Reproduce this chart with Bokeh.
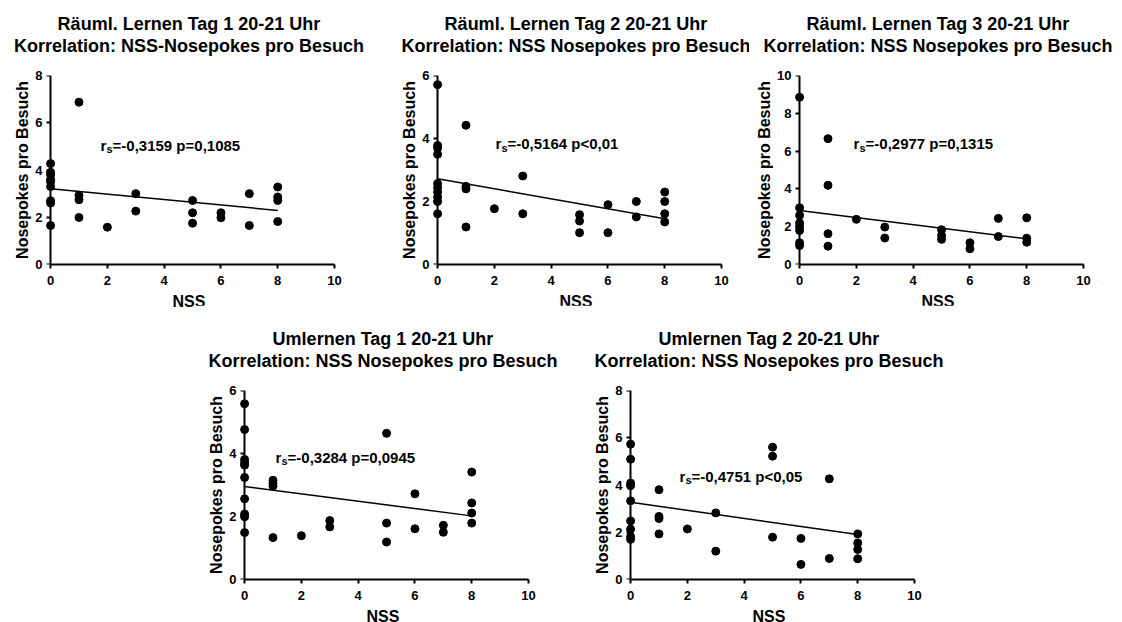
from bokeh.plotting import figure
from bokeh.models import Range1d, FixedTicker, Label, Title, Spacer, LinearAxis
from bokeh.layouts import row, column
from bokeh.embed import file_html
from bokeh.resources import INLINE

FONT = "Liberation Sans"

# --- data -------------------------------------------------------------
title_top = [
    "Räuml. Lernen Tag 1 20-21 Uhr",
    "Räuml. Lernen Tag 2 20-21 Uhr",
    "Räuml. Lernen Tag 3 20-21 Uhr",
    "Umlernen Tag 1 20-21 Uhr",
    "Umlernen Tag 2 20-21 Uhr",
]
title_bottom = [
    "Korrelation: NSS-Nosepokes pro Besuch",
    "Korrelation: NSS Nosepokes pro Besuch",
    "Korrelation: NSS Nosepokes pro Besuch",
    "Korrelation: NSS Nosepokes pro Besuch",
    "Korrelation: NSS Nosepokes pro Besuch",
]
stats_text = [
    "=-0,3159 p=0,1085",
    "=-0,5164 p<0,01",
    "=-0,2977 p=0,1315",
    "=-0,3284 p=0,0945",
    "=-0,4751 p<0,05",
]
y_max = [8, 6, 10, 6, 8]
x_ticks = [0, 2, 4, 6, 8, 10]

nss_raeuml_1 = [0, 0, 0, 0, 0, 0, 0, 0, 0, 1, 1, 1, 1, 2, 3, 3, 5, 5, 5, 6, 6, 7, 7, 8, 8, 8, 8]
np_raeuml_1 = [4.27, 3.90, 3.80, 3.60, 3.50, 3.30, 2.70, 2.60, 1.65,
               6.87, 2.93, 2.74, 1.99, 1.58, 3.00, 2.26, 2.71, 2.19, 1.75,
               2.19, 1.98, 3.00, 1.65, 3.28, 2.86, 2.71, 1.82]

nss_raeuml_2 = [0, 0, 0, 0, 0, 0, 0, 0, 0, 0, 1, 1, 1, 1, 2, 3, 3, 5, 5, 5, 6, 6, 7, 7, 8, 8, 8, 8]
np_raeuml_2 = [5.71, 3.78, 3.70, 3.50, 2.57, 2.44, 2.30, 2.14, 2.00, 1.61,
               4.42, 2.48, 2.40, 1.19, 1.77, 2.81, 1.61, 1.58, 1.38, 1.01,
               1.90, 1.01, 2.00, 1.51, 2.30, 2.00, 1.61, 1.35]

nss_raeuml_3 = [0, 0, 0, 0, 0, 0, 0, 0, 1, 1, 1, 1, 2, 3, 3, 5, 5, 5, 6, 6, 7, 7, 8, 8, 8]
np_raeuml_3 = [8.85, 3.00, 2.60, 2.20, 2.00, 1.80, 1.15, 1.00,
               6.66, 4.19, 1.63, 0.97, 2.39, 1.98, 1.40, 1.84, 1.54, 1.33,
               1.15, 0.83, 2.44, 1.48, 2.47, 1.39, 1.18]

nss_um_1 = [0, 0, 0, 0, 0, 0, 0, 0, 0, 0, 1, 1, 1, 1, 2, 3, 3, 5, 5, 5, 6, 6, 7, 7, 8, 8, 8, 8]
np_um_1 = [5.58, 4.76, 3.81, 3.70, 3.63, 3.24, 2.56, 2.08, 1.99, 1.49,
           3.15, 3.05, 2.97, 1.33, 1.39, 1.87, 1.67, 4.64, 1.79, 1.19,
           2.72, 1.61, 1.72, 1.50, 3.41, 2.43, 2.11, 1.79]

nss_um_2 = [0, 0, 0, 0, 0, 0, 0, 0, 0, 1, 1, 1, 1, 2, 3, 3, 5, 5, 5, 6, 6, 7, 7, 8, 8, 8, 8]
np_um_2 = [5.73, 5.09, 4.08, 3.97, 3.33, 2.48, 2.13, 1.82, 1.70,
           3.80, 2.67, 2.58, 1.93, 2.14, 2.82, 1.20, 5.60, 5.22, 1.79,
           1.74, 0.64, 4.26, 0.89, 1.93, 1.55, 1.27, 0.88]

# regression lines: fitted value at NSS = 0 and NSS = 8
fit_x = [0, 8]
fit_at_0 = [3.21, 2.72, 2.86, 2.95, 3.27]
fit_at_8 = [2.29, 1.45, 1.36, 2.02, 1.90]

nss_sets = [nss_raeuml_1, nss_raeuml_2, nss_raeuml_3, nss_um_1, nss_um_2]
np_sets = [np_raeuml_1, np_raeuml_2, np_raeuml_3, np_um_1, np_um_2]

# --- layout settings --------------------------------------------------
X_PAD = 0.25                 # room left of x = 0 so dots on the axis are not cut
PX_PER_UNIT = 28.4
FRAME_W = round(PX_PER_UNIT * (10 + X_PAD))
FRAME_H = 189

panel_borders = [  # left, right, top, bottom
    (43, 53, 85, 52),
    (43, 28, 85, 52),
    (43, 39, 85, 52),
    (43, 52, 85, 42),
    (43, 50, 85, 42),
]
stat_pos = [(1.76, 5.04), (2.04, 3.84), (1.90, 6.40), (1.09, 3.88), (1.72, 4.36)]


def style_axis(ax):
    ax.axis_line_width = 2
    ax.axis_line_color = "black"
    ax.major_tick_line_width = 2
    ax.major_tick_line_color = "black"
    ax.major_tick_in = 0
    ax.major_tick_out = 4
    ax.minor_tick_line_color = None
    ax.major_label_text_font = FONT
    ax.major_label_text_font_size = "13px"
    ax.major_label_text_font_style = "bold"
    ax.major_label_text_color = "black"
    ax.axis_label_text_font = FONT
    ax.axis_label_text_font_size = "16px"
    ax.axis_label_text_font_style = "bold"
    ax.axis_label_text_color = "black"


def make_panel(i):
    bl, br, bt, bb = panel_borders[i]
    p = figure(frame_width=FRAME_W, frame_height=FRAME_H,
               min_border_left=bl, min_border_right=br,
               min_border_top=bt, min_border_bottom=bb,
               x_range=Range1d(-X_PAD, 10), y_range=Range1d(0, y_max[i]),
               toolbar_location=None, output_backend="svg", title=None)
    p.outline_line_color = None
    p.grid.visible = False
    p.background_fill_color = "white"
    p.border_fill_color = "white"

    p.add_layout(Title(text=title_top[i] + "\n" + title_bottom[i],
                       align="center", text_align="center", text_font=FONT,
                       text_font_size="18px", text_font_style="bold",
                       text_line_height=1.1,
                       text_color="black", standoff=40), "above")

    y_ticks = list(range(0, y_max[i] + 1, 2))

    # x axis: line from 0 to 10
    xa = p.xaxis[0]
    style_axis(xa)
    xa.ticker = FixedTicker(ticks=x_ticks)
    xa.bounds = (0, 10)
    xa.major_label_standoff = 7
    xa.axis_label_standoff = 5
    xa.axis_label = "NSS"

    # y axis tick labels and title, next to the frame
    ya = p.yaxis[0]
    style_axis(ya)
    ya.ticker = FixedTicker(ticks=y_ticks)
    ya.axis_line_color = None
    ya.major_tick_line_color = None
    ya.major_tick_out = 0
    ya.major_label_standoff = 1
    ya.axis_label_standoff = 1
    ya.axis_label = "Nosepokes pro Besuch"

    # y axis line and ticks, drawn at NSS = 0
    yl = LinearAxis(ticker=FixedTicker(ticks=y_ticks), fixed_location=0)
    style_axis(yl)
    yl.major_label_text_color = None
    yl.major_label_text_font_size = "1px"
    yl.major_label_standoff = 0
    p.add_layout(yl, "left")

    p.line(fit_x, [fit_at_0[i], fit_at_8[i]], line_color="black", line_width=1.5)
    p.scatter(nss_sets[i], np_sets[i], size=8, marker="circle",
              fill_color="black", line_color="black")

    sx, sy = stat_pos[i]
    common = dict(x=sx, y=sy, text_font=FONT, text_font_style="bold",
                  text_color="black", text_baseline="middle")
    p.add_layout(Label(text="r", text_font_size="15px", **common))
    p.add_layout(Label(text="s", text_font_size="11px", x_offset=6,
                       y_offset=-4, **common))
    p.add_layout(Label(text=stats_text[i], text_font_size="15px",
                       x_offset=12, **common))
    return p


panels = [make_panel(i) for i in range(5)]
top = row(panels[0], panels[1], panels[2], margin=(-10, 0, 0, 0))
bottom = row(Spacer(width=194, height=310), panels[3], panels[4],
             margin=(-11, 0, 0, 0))
page = column(top, bottom)

open("out.html", "w").write(file_html(page, INLINE))
